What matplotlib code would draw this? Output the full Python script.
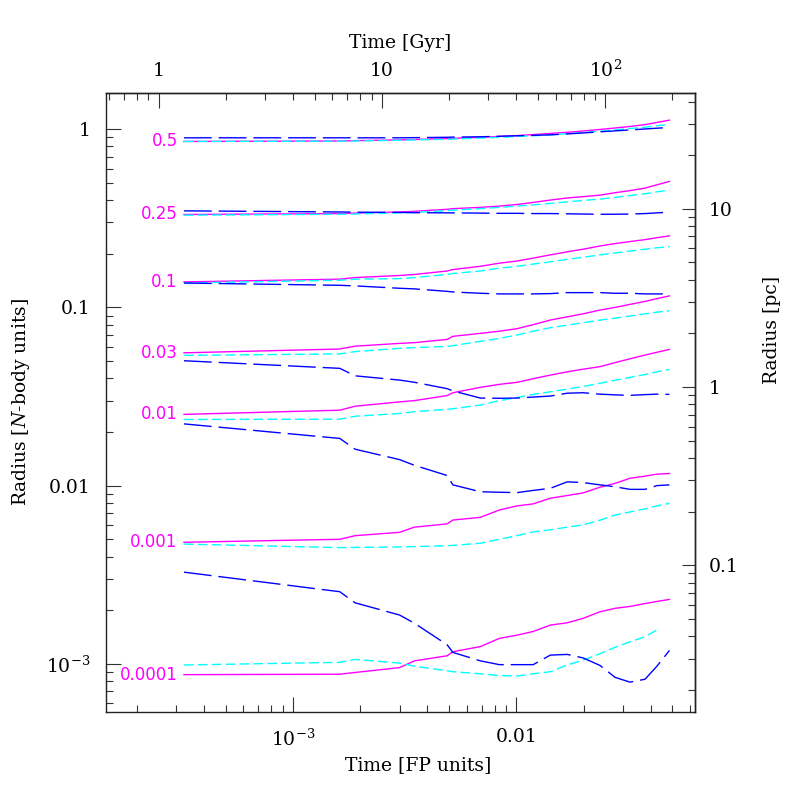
import numpy as np
import matplotlib.pyplot as plt
from matplotlib.ticker import FixedLocator, FixedFormatter, LogLocator, NullFormatter

plt.rcParams["font.family"] = "DejaVu Serif"
plt.rcParams["mathtext.fontset"] = "dejavuserif"

# ---------------------------------------------------------------
# data
# ---------------------------------------------------------------
t_fp = [3.25e-4, 1.62e-3, 1.90e-3, 3.0e-3, 3.5e-3, 4.9e-3, 5.2e-3, 6.9e-3, 8.4e-3, 0.0101,
        0.0119, 0.0142, 0.0169, 0.0199, 0.0237, 0.0277, 0.0323, 0.0377, 0.0426, 0.0485]

mass_labels = ["0.5", "0.25", "0.1", "0.03", "0.01", "0.001", "0.0001"]

# magenta, solid
r_solid_05 = [0.853, 0.858, 0.862, 0.870, 0.875, 0.885, 0.888, 0.900, 0.910, 0.920,
              0.932, 0.946, 0.960, 0.976, 0.996, 1.015, 1.035, 1.060, 1.090, 1.123]
r_solid_025 = [0.332, 0.336, 0.338, 0.343, 0.346, 0.355, 0.358, 0.364, 0.370, 0.378,
               0.388, 0.400, 0.411, 0.418, 0.426, 0.440, 0.452, 0.467, 0.487, 0.509]
r_solid_01 = [0.139, 0.144, 0.147, 0.151, 0.153, 0.160, 0.163, 0.170, 0.177, 0.182,
              0.189, 0.197, 0.205, 0.212, 0.221, 0.228, 0.234, 0.240, 0.246, 0.252]
r_solid_003 = [0.0556, 0.0584, 0.0606, 0.0628, 0.0634, 0.0661, 0.0688, 0.0715, 0.0735, 0.0760,
               0.0800, 0.0849, 0.0885, 0.0920, 0.0966, 0.100, 0.104, 0.108, 0.112, 0.116]
r_solid_001 = [0.0251, 0.0265, 0.0279, 0.0295, 0.0300, 0.0320, 0.0332, 0.0356, 0.0370, 0.0380,
               0.0398, 0.0417, 0.0435, 0.0450, 0.0465, 0.0490, 0.0515, 0.0540, 0.0560, 0.0581]
r_solid_0001 = [0.00481, 0.00500, 0.00524, 0.00547, 0.00585, 0.00610, 0.00641, 0.00664, 0.00730, 0.00770,
                0.00790, 0.00850, 0.00880, 0.00910, 0.00980, 0.0103, 0.0110, 0.0113, 0.0116, 0.0117]
r_solid_00001 = [0.000870, 0.000875, 0.000895, 0.000953, 0.00104, 0.00111, 0.00117, 0.00125, 0.00139, 0.00145,
                 0.00152, 0.00165, 0.00170, 0.00180, 0.00196, 0.00205, 0.00210, 0.00218, 0.00224, 0.00230]

# cyan, short dashes
r_short_05 = [0.853, 0.856, 0.858, 0.866, 0.870, 0.878, 0.880, 0.892, 0.900, 0.910,
              0.918, 0.929, 0.942, 0.956, 0.974, 0.990, 1.008, 1.025, 1.045, 1.062]
r_short_025 = [0.329, 0.333, 0.334, 0.339, 0.341, 0.349, 0.351, 0.358, 0.364, 0.370,
               0.376, 0.383, 0.391, 0.398, 0.405, 0.414, 0.424, 0.434, 0.445, 0.455]
r_short_01 = [0.137, 0.142, 0.144, 0.145, 0.147, 0.153, 0.155, 0.160, 0.166, 0.170,
              0.175, 0.180, 0.186, 0.191, 0.197, 0.202, 0.207, 0.212, 0.216, 0.219]
r_short_003 = [0.0538, 0.0548, 0.0565, 0.0589, 0.0595, 0.0604, 0.0610, 0.0645, 0.0670, 0.0700,
               0.0735, 0.0769, 0.0795, 0.0820, 0.0849, 0.0870, 0.0895, 0.0920, 0.0940, 0.0957]
r_short_001 = [0.0235, 0.0236, 0.0245, 0.0254, 0.0260, 0.0268, 0.0270, 0.0283, 0.0300, 0.0312,
               0.0325, 0.0336, 0.0348, 0.0360, 0.0375, 0.0390, 0.0405, 0.0420, 0.0435, 0.0449]
r_short_0001 = [0.00470, 0.00449, 0.00450, 0.00453, 0.00455, 0.00460, 0.00462, 0.00475, 0.00500, 0.00525,
                0.00550, 0.00565, 0.00585, 0.00602, 0.00640, 0.00684, 0.00712, 0.00740, 0.00770, 0.00796]
r_short_00001 = [0.000986, 0.00102, 0.00106, 0.00101, 0.00097, 0.000915, 0.000904, 0.00088, 0.00086, 0.000855,
                 0.00088, 0.000904, 0.000986, 0.00105, 0.00114, 0.00124, 0.00133, 0.00142, 0.00155, np.nan]

# blue, long dashes (six curves)
r_long_05 = [0.894, 0.894, 0.894, 0.894, 0.896, 0.900, 0.902, 0.906, 0.912, 0.918,
             0.923, 0.929, 0.940, 0.952, 0.966, 0.978, 0.990, 1.002, 1.012, 1.022]
r_long_025 = [0.348, 0.343, 0.342, 0.341, 0.340, 0.339, 0.339, 0.338, 0.337, 0.337,
              0.336, 0.336, 0.335, 0.334, 0.333, 0.333, 0.334, 0.336, 0.339, 0.342]
r_long_01 = [0.137, 0.133, 0.132, 0.128, 0.127, 0.123, 0.122, 0.120, 0.119, 0.119,
             0.119, 0.1195, 0.121, 0.121, 0.121, 0.120, 0.120, 0.119, 0.119, 0.119]
r_long_003 = [0.0502, 0.0455, 0.0413, 0.0391, 0.0380, 0.0350, 0.0340, 0.0310, 0.0309, 0.0310,
              0.0314, 0.0318, 0.0330, 0.0332, 0.0326, 0.0323, 0.0321, 0.0324, 0.0326, 0.0325]
r_long_001 = [0.0222, 0.0184, 0.0160, 0.0140, 0.0130, 0.0114, 0.0101, 0.00924, 0.00918, 0.00914,
              0.00940, 0.00966, 0.0105, 0.0104, 0.0101, 0.00985, 0.00953, 0.00953, 0.0100, 0.0101]
r_long_0001 = [0.00327, 0.00254, 0.00220, 0.00188, 0.00169, 0.00128, 0.00116, 0.00104, 0.00099, 0.00099,
               0.00099, 0.00112, 0.00113, 0.00108, 0.00098, 0.00084, 0.00079, 0.00082, 0.00097, 0.00119]

solid = [r_solid_05, r_solid_025, r_solid_01, r_solid_003, r_solid_001, r_solid_0001, r_solid_00001]
short = [r_short_05, r_short_025, r_short_01, r_short_003, r_short_001, r_short_0001, r_short_00001]
long_ = [r_long_05, r_long_025, r_long_01, r_long_003, r_long_001, r_long_0001]

GYR_PER_FP = 4000.0
PC_PER_NB = 28.0

# ---------------------------------------------------------------
# plot
# ---------------------------------------------------------------
fig = plt.figure(figsize=(7.97, 7.97), dpi=100)
ax = fig.add_axes([0.133, 0.107, 0.739, 0.7765])

for r in solid:
    ax.plot(t_fp, r, color="#ff00ff", lw=1.0)
for r in short:
    ax.plot(t_fp, r, color="#00ffff", lw=1.0, dashes=(7, 3))
for r in long_:
    ax.plot(t_fp, r, color="#0000ff", lw=1.0, dashes=(20, 5))

for lab, r in zip(mass_labels, solid):
    ax.annotate(lab, (t_fp[0], r[0]), xytext=(-4.5, 0), textcoords="offset points",
                ha="right", va="center", color="#ff00ff", fontsize=12, family="DejaVu Sans")

ax.set_xscale("log")
ax.set_yscale("log")
ax.set_xlim(1.455e-4, 0.0631)
ax.set_ylim(5.39e-4, 1.598)

tick_kw = dict(direction="in", color="#333333", width=0.8)
grey = "#222222"

ax.xaxis.set_major_locator(FixedLocator([1e-3, 1e-2]))
ax.xaxis.set_major_formatter(FixedFormatter([r"$10^{-3}$", "0.01"]))
ax.xaxis.set_minor_locator(LogLocator(subs=np.arange(2, 10)))
ax.xaxis.set_minor_formatter(NullFormatter())
ax.yaxis.set_major_locator(FixedLocator([1e-3, 1e-2, 1e-1, 1]))
ax.yaxis.set_major_formatter(FixedFormatter([r"$10^{-3}$", "0.01", "0.1", "1"]))
ax.yaxis.set_minor_locator(LogLocator(subs=np.arange(2, 10)))
ax.yaxis.set_minor_formatter(NullFormatter())
ax.tick_params(which="major", length=10.5, labelsize=13.5, **tick_kw)
ax.tick_params(which="minor", length=5, **tick_kw)
ax.tick_params(axis="x", pad=12)
ax.tick_params(axis="y", pad=11)
ax.tick_params(top=False, right=False)
for s in ax.spines.values():
    s.set_linewidth(1.0)
    s.set_color(grey)

ax.set_xlabel("Time [FP units]", fontsize=13.5)
ax.set_ylabel(r"Radius [$N$-body units]", fontsize=13.5)
ax.xaxis.set_label_coords(0.53, -0.072)
ax.yaxis.set_label_coords(-0.125, 0.5)

# top: Gyr
secx = ax.secondary_xaxis("top", functions=(lambda t: t * GYR_PER_FP, lambda g: g / GYR_PER_FP))
secx.xaxis.set_major_locator(FixedLocator([1, 10, 100]))
secx.xaxis.set_major_formatter(FixedFormatter(["1", "10", r"$10^{2}$"]))
secx.xaxis.set_minor_locator(LogLocator(subs=np.arange(2, 10)))
secx.xaxis.set_minor_formatter(NullFormatter())
secx.tick_params(which="major", length=10.5, labelsize=13.5, pad=9, **tick_kw)
secx.tick_params(which="minor", length=5, **tick_kw)
secx.set_xlabel("Time [Gyr]", fontsize=13.5, labelpad=8)
secx.spines["top"].set_linewidth(1.0)
secx.spines["top"].set_color(grey)

# right: pc
secy = ax.secondary_yaxis("right", functions=(lambda r: r * PC_PER_NB, lambda p: p / PC_PER_NB))
secy.yaxis.set_major_locator(FixedLocator([0.1, 1, 10]))
secy.yaxis.set_major_formatter(FixedFormatter(["0.1", "1", "10"]))
secy.yaxis.set_minor_locator(LogLocator(subs=np.arange(2, 10)))
secy.yaxis.set_minor_formatter(NullFormatter())
secy.tick_params(which="major", length=9.5, labelsize=13.5, pad=10, **tick_kw)
secy.tick_params(which="minor", length=5, **tick_kw)
secy.spines["right"].set_linewidth(1.0)
secy.spines["right"].set_color(grey)
fig.text(772 / 797, 1 - 330 / 797, "Radius [pc]", rotation=90, ha="center", va="center",
         fontsize=13.5)

fig.savefig("out.png", dpi=100)
